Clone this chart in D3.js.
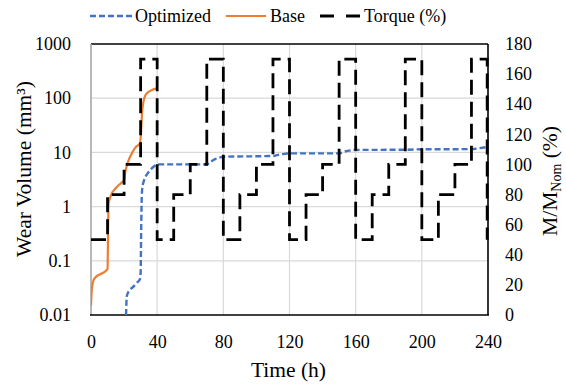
<!DOCTYPE html>
<html><head><meta charset="utf-8">
<script src="https://cdn.jsdelivr.net/npm/d3@7"></script>
<style>
body{margin:0;background:#fff}
svg{display:block}
</style>
</head><body>
<svg id="c" width="566" height="385"></svg>
<script>
// ---- data ----
const xTicks = [0, 40, 80, 120, 160, 200, 240];
const yLeftTicks = [0.01, 0.1, 1, 10, 100, 1000];
const yRightTicks = [0, 20, 40, 60, 80, 100, 120, 140, 160, 180];

const baseTime = [0, 0.5, 2, 10, 10.3, 10.6, 12, 15, 18, 20, 20.5, 21.5, 23, 25, 27, 29.5, 30.2, 30.8, 31.5, 33, 35, 37.5, 40];
const baseWear = [0.015, 0.03, 0.047, 0.07, 0.3, 1.1, 1.6, 2.2, 2.7, 3.1, 4.0, 5.5, 7.5, 10, 12.5, 14.5, 22, 50, 80, 115, 132, 145, 152];

const optTime = [21.2, 21.6, 23, 25, 28, 29.6, 30, 30.3, 30.6, 31, 32, 34, 36, 38, 40, 70, 72, 75, 78, 80, 110, 113, 117, 120, 150, 153, 157, 160, 190, 200, 230, 235, 240];
const optWear = [0.01, 0.022, 0.028, 0.032, 0.04, 0.046, 0.06, 0.3, 1.2, 2.2, 3.0, 4.0, 4.8, 5.5, 6.0, 6.0, 6.6, 7.5, 8.1, 8.3, 8.6, 9.0, 9.4, 9.6, 9.6, 10.3, 10.9, 11.1, 11.2, 11.4, 11.5, 12.0, 12.7];

const torqueTime  = [0, 10, 20, 30, 40, 50, 60, 70, 80, 90, 100, 110, 120, 130, 140, 150, 160, 170, 180, 190, 200, 210, 220, 230, 239.5];
const torqueValue = [50, 80, 100, 170, 50, 80, 100, 170, 50, 80, 100, 170, 50, 80, 100, 170, 50, 80, 100, 170, 50, 80, 100, 170, 50];

const seriesNames = ["Optimized", "Base", "Torque (%)"];
const colors = {opt: "#4472C4", base: "#ED7D31", torque: "#000000"};

// ---- layout ----
const FONT = "'Liberation Serif', 'Times New Roman', Tinos, 'DejaVu Serif', serif";
const L = 91, R = 488, T = 44, B = 315;
const svg = d3.select("#c");
const x = d3.scaleLinear().domain([0, 240]).range([L, R]);
const yL = d3.scaleLog().domain([0.01, 1000]).range([B, T]);
const yR = d3.scaleLinear().domain([0, 180]).range([B, T]);

svg.append("defs").append("clipPath").attr("id", "clip")
  .append("rect").attr("x", L).attr("y", T - 2).attr("width", R - L + 2).attr("height", B - T + 2);

// gridlines
svg.append("g").selectAll("line").data(yLeftTicks.slice(1, -1)).join("line")
  .attr("x1", L).attr("x2", R).attr("y1", d => yL(d)).attr("y2", d => yL(d))
  .attr("stroke", "#d9d9d9").attr("stroke-width", 1.2);
svg.append("g").selectAll("line").data(xTicks.slice(1, -1)).join("line")
  .attr("y1", T).attr("y2", B).attr("x1", d => x(d)).attr("x2", d => x(d))
  .attr("stroke", "#d9d9d9").attr("stroke-width", 1.2);

// frame
svg.append("line").attr("x1", L).attr("x2", R).attr("y1", T).attr("y2", T).attr("stroke", "#000").attr("stroke-width", 1.6);
svg.append("line").attr("x1", R).attr("x2", R).attr("y1", T).attr("y2", B).attr("stroke", "#000").attr("stroke-width", 1.6);
svg.append("line").attr("x1", L).attr("x2", L).attr("y1", T).attr("y2", B).attr("stroke", "#a6a6a6").attr("stroke-width", 1.6);
svg.append("line").attr("x1", L - 1).attr("x2", R + 1).attr("y1", B).attr("y2", B).attr("stroke", "#000").attr("stroke-width", 1.6);

// axes (labels)
const fs = "18px";
const gx = svg.append("g").attr("transform", `translate(0,${B})`)
  .call(d3.axisBottom(x).tickValues(xTicks).tickSize(0).tickPadding(20).tickFormat(d3.format("d")));
gx.select(".domain").remove();

const gl = svg.append("g").attr("transform", `translate(${L},0)`)
  .call(d3.axisLeft(yL).tickValues(yLeftTicks).tickSize(0).tickPadding(20).tickFormat(d => String(d)));
gl.select(".domain").remove();

const gr = svg.append("g").attr("transform", `translate(${R},0)`)
  .call(d3.axisRight(yR).tickValues(yRightTicks).tickSize(0).tickPadding(17).tickFormat(d3.format("d")));
gr.select(".domain").remove();

[gx, gl, gr].forEach(g => {
  g.attr("font-family", FONT).attr("font-size", 18);
  g.selectAll("text").style("font-size", fs).style("fill", "#000");
});

// series
const plot = svg.append("g").attr("clip-path", "url(#clip)");
const lineBase = d3.line().x(i => x(baseTime[i])).y(i => yL(baseWear[i])).curve(d3.curveMonotoneX);
const lineOpt = d3.line().x(i => x(optTime[i])).y(i => yL(optWear[i])).curve(d3.curveMonotoneX);
const lineTq = d3.line().x(i => x(torqueTime[i])).y(i => yR(torqueValue[i])).curve(d3.curveStepAfter);

plot.append("path").attr("d", lineOpt(d3.range(optTime.length)))
  .attr("fill", "none").attr("stroke", colors.opt).attr("stroke-width", 2.4).attr("stroke-dasharray", "6,3");
plot.append("path").attr("d", lineBase(d3.range(baseTime.length)))
  .attr("fill", "none").attr("stroke", colors.base).attr("stroke-width", 2.2);
svg.append("path").attr("d", lineTq(d3.range(torqueTime.length)))
  .attr("fill", "none").attr("stroke", colors.torque).attr("stroke-width", 2.8).attr("stroke-dasharray", "15,7");

// axis titles
svg.append("text").attr("x", (L + R) / 2 - 1).attr("y", 377).attr("text-anchor", "middle")
  .style("font-size", "21.5px").text("Time (h)");
svg.append("text").attr("transform", "translate(31,169) rotate(-90)").attr("text-anchor", "middle")
  .style("font-size", "21.5px").text("Wear Volume (mm³)");
const rt = svg.append("text").attr("transform", "translate(557,181) rotate(-90)").attr("text-anchor", "middle")
  .style("font-size", "21.5px");
rt.append("tspan").text("M/M");
rt.append("tspan").attr("dy", 4).style("font-size", "14px").text("Nom");
rt.append("tspan").attr("dy", -4).text(" (%)");

// legend
const lg = svg.append("g");
const legendItems = [
  {name: seriesNames[0], x1: 90, x2: 132, tx: 135, color: colors.opt, dash: "6,3", w: 2.4},
  {name: seriesNames[1], x1: 226, x2: 266, tx: 270, color: colors.base, dash: null, w: 2.2},
  {name: seriesNames[2], x1: 320, x2: 361, tx: 364, color: colors.torque, dash: "14,12", w: 2.8}
];
legendItems.forEach(it => {
  lg.append("line").attr("x1", it.x1).attr("x2", it.x2).attr("y1", 16).attr("y2", 16)
    .attr("stroke", it.color).attr("stroke-width", it.w).attr("stroke-dasharray", it.dash);
  lg.append("text").attr("x", it.tx).attr("y", 22).style("font-size", "18px").text(it.name);
});

svg.selectAll("text").style("font-family", FONT).style("fill", "#000");
</script>
</body></html>
